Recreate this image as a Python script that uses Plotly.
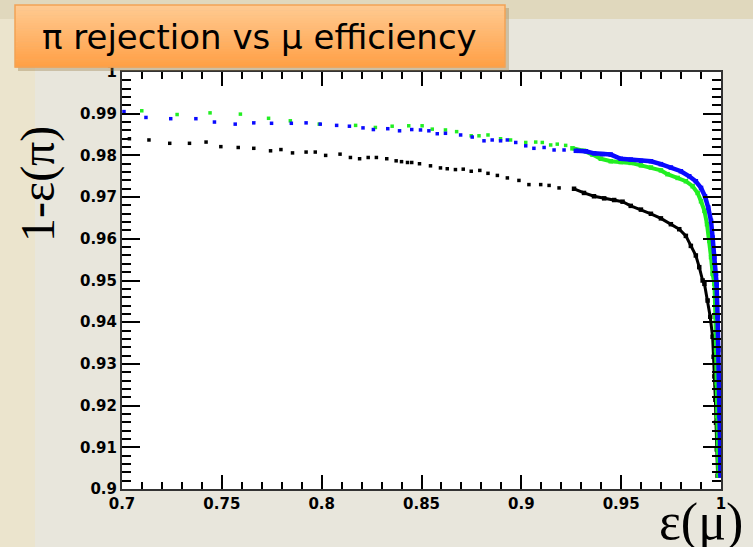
import plotly.graph_objects as go

# ---------------- data ----------------
blue_x = [0.701, 0.712, 0.7244, 0.737, 0.7463, 0.7567, 0.766, 0.7749, 0.7848, 0.7922,
          0.7993, 0.8075, 0.8139, 0.8207, 0.8259, 0.8331, 0.839, 0.8451, 0.8495, 0.8537,
          0.8579, 0.862, 0.8696, 0.8754, 0.8813, 0.8854, 0.8896, 0.893, 0.8972, 0.9022,
          0.9063, 0.9114, 0.9164, 0.9214, 0.9273, 0.9323, 0.9364, 0.9406, 0.9448, 0.9498,
          0.9548, 0.9599, 0.9649, 0.9699, 0.9749, 0.9799, 0.9841, 0.9874, 0.99, 0.992,
          0.9936, 0.995, 0.9958, 0.9967, 0.9975, 0.9978, 0.9983, 0.9987, 0.9992, 0.9993,
          0.9996, 0.9997]
blue_y = [0.9905, 0.9891, 0.9888, 0.9888, 0.988, 0.9875, 0.9878, 0.9877, 0.9877, 0.9878,
          0.9875, 0.9872, 0.987, 0.9866, 0.9862, 0.9864, 0.9859, 0.9862, 0.9861, 0.9859,
          0.9852, 0.9853, 0.9849, 0.9844, 0.9835, 0.9837, 0.9835, 0.9837, 0.9831, 0.9823,
          0.9817, 0.9819, 0.9813, 0.9813, 0.9811, 0.981, 0.9805, 0.9803, 0.9802, 0.9792,
          0.979, 0.9787, 0.9786, 0.9779, 0.9771, 0.9762, 0.975, 0.9738, 0.9722, 0.9702,
          0.9675, 0.9643, 0.9603, 0.9556, 0.9516, 0.9492, 0.9413, 0.9333, 0.9254, 0.9175,
          0.9095, 0.9032]

green_x = [0.7099, 0.7276, 0.7441, 0.7593, 0.7734, 0.7843, 0.7988, 0.817, 0.8269, 0.8353,
           0.8436, 0.8503, 0.8554, 0.862, 0.8676, 0.8749, 0.8788, 0.8833, 0.8896, 0.8946,
           0.9022, 0.9072, 0.9105, 0.9147, 0.918, 0.9222, 0.9256, 0.9314, 0.9356, 0.9398,
           0.9448, 0.9498, 0.9548, 0.9599, 0.9649, 0.9699, 0.9732, 0.9783, 0.9824, 0.9858,
           0.9883, 0.99, 0.9917, 0.993, 0.9942, 0.995, 0.9958, 0.9967, 0.9972, 0.9975,
           0.9979, 0.998, 0.9983, 0.9987]
green_y = [0.9907, 0.9898, 0.9902, 0.9899, 0.9889, 0.9883, 0.9875, 0.9872, 0.9867, 0.987,
           0.9871, 0.9871, 0.9863, 0.9861, 0.9857, 0.9847, 0.9847, 0.9849, 0.984, 0.9837,
           0.9831, 0.9832, 0.9831, 0.9825, 0.9827, 0.9824, 0.9817, 0.9811, 0.9802, 0.9792,
           0.9786, 0.9784, 0.9782, 0.9776, 0.9771, 0.9764, 0.9755, 0.9746, 0.9738, 0.9726,
           0.971, 0.969, 0.9667, 0.9635, 0.9595, 0.9556, 0.9516, 0.9492, 0.9413, 0.9333,
           0.9254, 0.9175, 0.9095, 0.9032]

black_x = [0.7037, 0.7135, 0.7239, 0.7338, 0.7421, 0.7495, 0.7582, 0.766, 0.7744, 0.7796,
           0.7854, 0.7922, 0.7968, 0.802, 0.8092, 0.8144, 0.819, 0.8233, 0.8274, 0.8326,
           0.8373, 0.84, 0.843, 0.8451, 0.849, 0.8545, 0.8595, 0.8629, 0.867, 0.8709,
           0.8749, 0.8792, 0.8833, 0.888, 0.893, 0.8988, 0.9038, 0.9097, 0.9139, 0.9189,
           0.9264, 0.9314, 0.9364, 0.9415, 0.9465, 0.9507, 0.9548, 0.9599, 0.9649, 0.9699,
           0.9749, 0.9791, 0.9824, 0.9849, 0.9874, 0.9891, 0.9908, 0.9917, 0.9933, 0.9946,
           0.9958, 0.9963, 0.9967, 0.9972, 0.9975, 0.9979, 0.9983]
black_y = [0.984, 0.9837, 0.9829, 0.9829, 0.9832, 0.9821, 0.9819, 0.9817, 0.9811, 0.9814,
           0.9806, 0.9808, 0.9808, 0.98, 0.9803, 0.9795, 0.9792, 0.9795, 0.9795, 0.9792,
           0.9787, 0.9785, 0.9783, 0.9783, 0.978, 0.9775, 0.977, 0.9768, 0.9766, 0.9767,
           0.9762, 0.9764, 0.9757, 0.9752, 0.9746, 0.974, 0.973, 0.973, 0.9728, 0.9722,
           0.972, 0.971, 0.9702, 0.9697, 0.9693, 0.9689, 0.9679, 0.967, 0.966, 0.9649,
           0.9635, 0.9623, 0.9607, 0.9583, 0.956, 0.9532, 0.95, 0.9492, 0.9452, 0.9413,
           0.9365, 0.9317, 0.927, 0.9214, 0.9159, 0.9095, 0.9032]

# x from which the points are so dense they form a continuous band
blue_dense_from = 0.925
green_dense_from = 0.925
black_dense_from = 0.925

x_ticks = [0.7, 0.75, 0.8, 0.85, 0.9, 0.95, 1.0]
x_tick_labels = ["0.7", "0.75", "0.8", "0.85", "0.9", "0.95", "1"]
y_ticks = [0.9, 0.91, 0.92, 0.93, 0.94, 0.95, 0.96, 0.97, 0.98, 0.99, 1.0]
y_tick_labels = ["0.9", "0.91", "0.92", "0.93", "0.94", "0.95", "0.96", "0.97", "0.98", "0.99", "1"]

title_text = "π rejection vs μ efficiency"
y_title = "1-ε(π)"
x_title = "ε(μ)"

# ---------------- layout geometry ----------------
W, H = 753, 547
L, R, T, B = 122, 32, 72, 58
PW, PH = W - L - R, H - T - B


def px(x):
    return (x - L) / PW


def py(y):
    return (H - B - y) / PH


fig = go.Figure()


def add_series(xs, ys, color, dense_from, lw):
    sx = [a for a in xs if a < dense_from]
    sy = [b for a, b in zip(xs, ys) if a < dense_from]
    dx = [a for a in xs if a >= dense_from]
    dy = [b for a, b in zip(xs, ys) if a >= dense_from]
    fig.add_trace(go.Scatter(x=sx, y=sy, mode="markers",
                             marker=dict(symbol="square", size=3.5, color=color, line=dict(width=0)),
                             showlegend=False, hoverinfo="skip"))
    fig.add_trace(go.Scatter(x=dx, y=dy, mode="lines+markers",
                             line=dict(color=color, width=lw),
                             marker=dict(symbol="square", size=4.5, color=color, line=dict(width=0)),
                             showlegend=False, hoverinfo="skip"))


add_series(black_x, black_y, "#000000", black_dense_from, 3)
add_series(green_x, green_y, "#22ee22", green_dense_from, 4)
add_series(blue_x, blue_y, "#0a0aff", blue_dense_from, 4.5)

# empty trace on the mirrored axes so they are drawn
fig.add_trace(go.Scatter(x=[], y=[], xaxis="x2", yaxis="y2", showlegend=False))

tickfont = dict(family="DejaVu Sans", size=15, color="black", weight="bold")
axcol = "#333333"

fig.update_layout(
    width=W, height=H,
    margin=dict(l=L, r=R, t=T, b=B, pad=0),
    paper_bgcolor="#e8e6dc",
    plot_bgcolor="white",
    showlegend=False,
    xaxis=dict(range=[0.7, 1.0], tickvals=x_ticks, ticktext=x_tick_labels,
               ticks="inside", ticklen=14, tickwidth=1.5, tickcolor="black",
               minor=dict(dtick=0.01, tick0=0.7, ticks="inside", ticklen=7, tickwidth=1.5, tickcolor="black"),
               showline=True, linecolor=axcol, linewidth=2, mirror=True,
               showgrid=False, zeroline=False, tickfont=tickfont),
    yaxis=dict(range=[0.9, 1.0], tickvals=y_ticks, ticktext=y_tick_labels,
               ticks="inside", ticklen=18, tickwidth=1.5, tickcolor="black",
               minor=dict(dtick=0.002, tick0=0.9, ticks="inside", ticklen=9, tickwidth=1.5, tickcolor="black"),
               showline=True, linecolor=axcol, linewidth=2, mirror=True,
               showgrid=False, zeroline=False, tickfont=tickfont),
    xaxis2=dict(range=[0.7, 1.0], overlaying="x", side="top", anchor="y",
                tickvals=x_ticks, showticklabels=False,
                ticks="inside", ticklen=14, tickwidth=1.5, tickcolor="black",
                minor=dict(dtick=0.01, tick0=0.7, ticks="inside", ticklen=7, tickwidth=1.5, tickcolor="black"),
                showline=False, showgrid=False, zeroline=False),
    yaxis2=dict(range=[0.9, 1.0], overlaying="y", side="right", anchor="x",
                tickvals=y_ticks, showticklabels=False,
                ticks="inside", ticklen=18, tickwidth=1.5, tickcolor="black",
                minor=dict(dtick=0.002, tick0=0.9, ticks="inside", ticklen=9, tickwidth=1.5, tickcolor="black"),
                showline=False, showgrid=False, zeroline=False),
)

shapes = []
# darker textured strips around the slide panel
shapes.append(dict(type="rect", xref="paper", yref="paper", x0=px(0), x1=px(W), y0=py(19), y1=py(0),
                   fillcolor="#e0d8bd", line=dict(width=0), layer="below"))
shapes.append(dict(type="rect", xref="paper", yref="paper", x0=px(0), x1=px(35), y0=py(H), y1=py(19),
                   fillcolor="#ebe4cd", line=dict(width=0), layer="below"))
# title box: shadow + vertical orange gradient
bx0, bx1, by0, by1 = 15, 505, 5, 67
shapes.append(dict(type="rect", xref="paper", yref="paper", x0=px(bx0 + 3), x1=px(bx1 + 4),
                   y0=py(by1 + 4), y1=py(by0 + 3), fillcolor="rgba(150,120,70,0.35)",
                   line=dict(width=0), layer="above"))
n = 24
top_c = (255, 202, 145)
bot_c = (255, 160, 70)
for i in range(n):
    t = i / (n - 1)
    c = tuple(int(round(top_c[k] + (bot_c[k] - top_c[k]) * t)) for k in range(3))
    ya = by0 + (by1 - by0) * i / n
    yb = by0 + (by1 - by0) * (i + 1) / n
    shapes.append(dict(type="rect", xref="paper", yref="paper", x0=px(bx0), x1=px(bx1),
                       y0=py(yb + 0.5), y1=py(ya), fillcolor="rgb(%d,%d,%d)" % c,
                       line=dict(width=0), layer="above"))
shapes.append(dict(type="rect", xref="paper", yref="paper", x0=px(bx0), x1=px(bx1),
                   y0=py(by1), y1=py(by0), fillcolor="rgba(0,0,0,0)",
                   line=dict(color="#f2a255", width=1.5), layer="above"))
fig.update_layout(shapes=shapes)

fig.add_annotation(text=title_text, xref="paper", yref="paper", x=px(259), y=py(37),
                   xanchor="center", yanchor="middle", showarrow=False,
                   font=dict(family="DejaVu Sans", size=34, color="black"))
fig.add_annotation(text=y_title, xref="paper", yref="paper", x=px(38), y=py(184),
                   xanchor="center", yanchor="middle", showarrow=False, textangle=-90,
                   font=dict(family="Liberation Serif", size=48, color="black"))
fig.add_annotation(text=x_title, xref="paper", yref="paper", x=px(701), y=py(522),
                   xanchor="center", yanchor="middle", showarrow=False,
                   font=dict(family="Liberation Serif", size=52, color="black"))

fig.write_html("out.html", config={"displayModeBar": False},
               post_script="document.body.style.margin='0';document.body.style.overflow='hidden';")
